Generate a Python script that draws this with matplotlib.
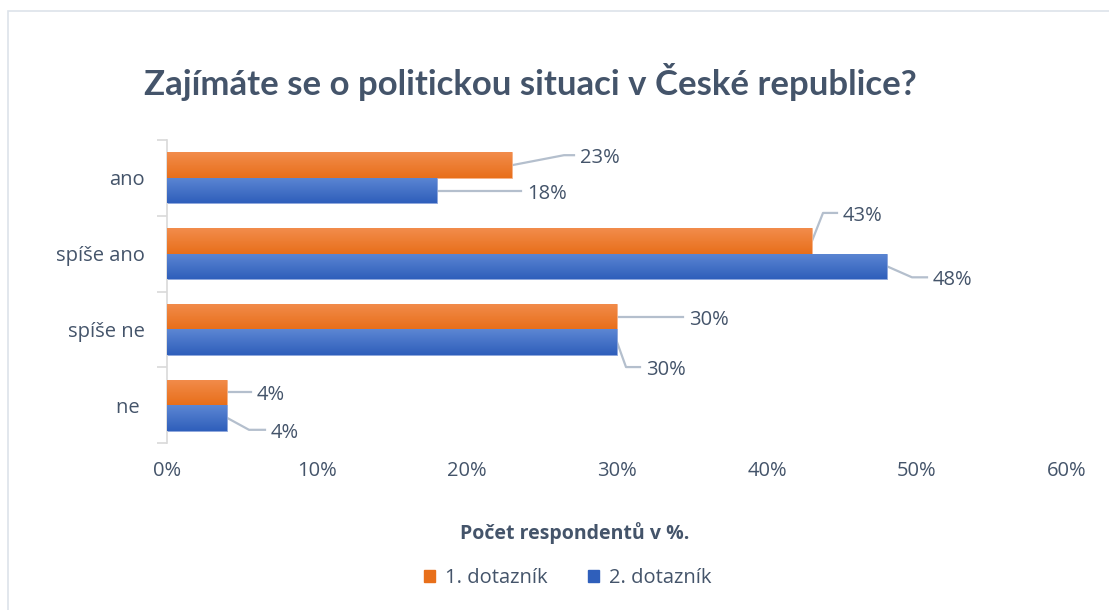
import numpy as np
import matplotlib.pyplot as plt
from matplotlib.patches import Rectangle
from matplotlib.colors import LinearSegmentedColormap
from matplotlib.ticker import PercentFormatter

categories = ['ano', 'spíše ano', 'spíše ne', 'ne ']
dotaznik1 = [23, 43, 30, 4]
dotaznik2 = [18, 48, 30, 4]
series_names = ['1. dotazník', '2. dotazník']

# label offsets (pixels) from the bar end: elbow point, label start
label_offsets1 = [((52, 10), (68, 8)), ((11, 28), (31, 27)), ((64, 0), (72, -3)), ((22, 0), (30, -1))]
label_offsets2 = [((82, 0), (90, -1)), ((25, -11), (46, -11)), ((9, -25), (29, -25)), ((22, -12), (44, -14))]

TEXT = '#44546A'
LEADER = '#B4BFCD'
ORANGE = ('#F28C4C', '#E86F1A')
BLUE = ('#5C86D3', '#2F5FBB')

plt.rcParams['font.family'] = ['Open Sans', 'DejaVu Sans']

fig = plt.figure(figsize=(11.09, 6.10), dpi=100)
ax = fig.add_axes([167 / 1109, 1 - 443 / 610, 900 / 1109, 303 / 610])

# chart frame like in Excel
fig.patches.append(Rectangle((8 / 1109, -0.1), 1.2, 1 - 11 / 610 + 0.1, transform=fig.transFigure,
                             fill=False, edgecolor='#DDE3EA', linewidth=1.2))

y = np.arange(len(categories))
h = 0.335
bars1 = ax.barh(y - h / 2, dotaznik1, height=h, color=ORANGE[1], edgecolor='#F6B48A', linewidth=0.6, zorder=2)
bars2 = ax.barh(y + h / 2, dotaznik2, height=h, color=BLUE[1], edgecolor='#8FA8DD', linewidth=0.6, zorder=2)

# vertical gradient inside each bar
grad = np.linspace(0, 1, 64).reshape(-1, 1)
for bars, cols in ((bars1, ORANGE), (bars2, BLUE)):
    cmap = LinearSegmentedColormap.from_list('g', [cols[0], cols[1]])
    for p in bars:
        x0, y0 = p.get_x(), p.get_y()
        im = ax.imshow(grad, cmap=cmap, aspect='auto', zorder=3,
                       extent=(x0, x0 + p.get_width(), y0 + p.get_height(), y0))
        im.set_clip_path(p)

ax.set_xlim(0, 60)
ax.set_ylim(len(categories) - 0.5, -0.5)
ax.set_xticks(range(0, 61, 10))
ax.xaxis.set_major_formatter(PercentFormatter(decimals=0))
ax.set_yticks(y)
ax.set_yticklabels(categories)
ax.set_yticks(np.arange(-0.5, len(categories), 1), minor=True)
ax.tick_params(axis='y', which='major', length=0, pad=16, labelsize=14.5, labelcolor=TEXT)
ax.tick_params(axis='y', which='minor', length=7, width=1.2, color='#D9D9D9')
ax.tick_params(axis='x', length=0, pad=13, labelsize=14.5, labelcolor=TEXT)
for s in ['top', 'right', 'bottom']:
    ax.spines[s].set_visible(False)
ax.spines['left'].set_color('#D9D9D9')
ax.spines['left'].set_linewidth(1.2)

# data labels with leader lines
for bars, vals, offs in ((bars1, dotaznik1, label_offsets1), (bars2, dotaznik2, label_offsets2)):
    for p, v, (elbow, lab) in zip(bars, vals, offs):
        bx, by = p.get_width(), p.get_y() + p.get_height() / 2
        tr = ax.transData
        x0, y0 = tr.transform((bx, by))
        pts = np.array([[x0, y0], [x0 + elbow[0], y0 + elbow[1]], [x0 + lab[0] - 6, y0 + elbow[1]]])
        inv = tr.inverted()
        d = inv.transform(pts)
        ax.plot(d[:, 0], d[:, 1], color=LEADER, linewidth=1.6, zorder=1, clip_on=False)
        ax.annotate(f'{v}%', (bx, by), xytext=(lab[0], elbow[1] - 3), textcoords='offset pixels',
                    ha='left', va='center', fontsize=14.5, color=TEXT)

fig.text(0.5 * (148 + 912) / 1109, 1 - 82 / 610, 'Zajímáte se o politickou situaci v České republice?',
         ha='center', va='center', fontsize=25, fontweight='bold', color=TEXT,
         family=['Lato', 'Open Sans', 'DejaVu Sans'])
fig.text(575 / 1109, 1 - 533 / 610, 'Počet respondentů v %.', ha='center', va='center',
         fontsize=14, fontweight='bold', color=TEXT)

handles = [Rectangle((0, 0), 1, 1, color=ORANGE[1]), Rectangle((0, 0), 1, 1, color=BLUE[1])]
fig.legend(handles, series_names, loc='center', bbox_to_anchor=(568 / 1109, 1 - 578 / 610), ncol=2,
           frameon=False, fontsize=14.5, labelcolor=TEXT, handlelength=0.55, handleheight=0.55,
           handletextpad=0.5, columnspacing=2.0)

fig.savefig('out.png', dpi=100)
